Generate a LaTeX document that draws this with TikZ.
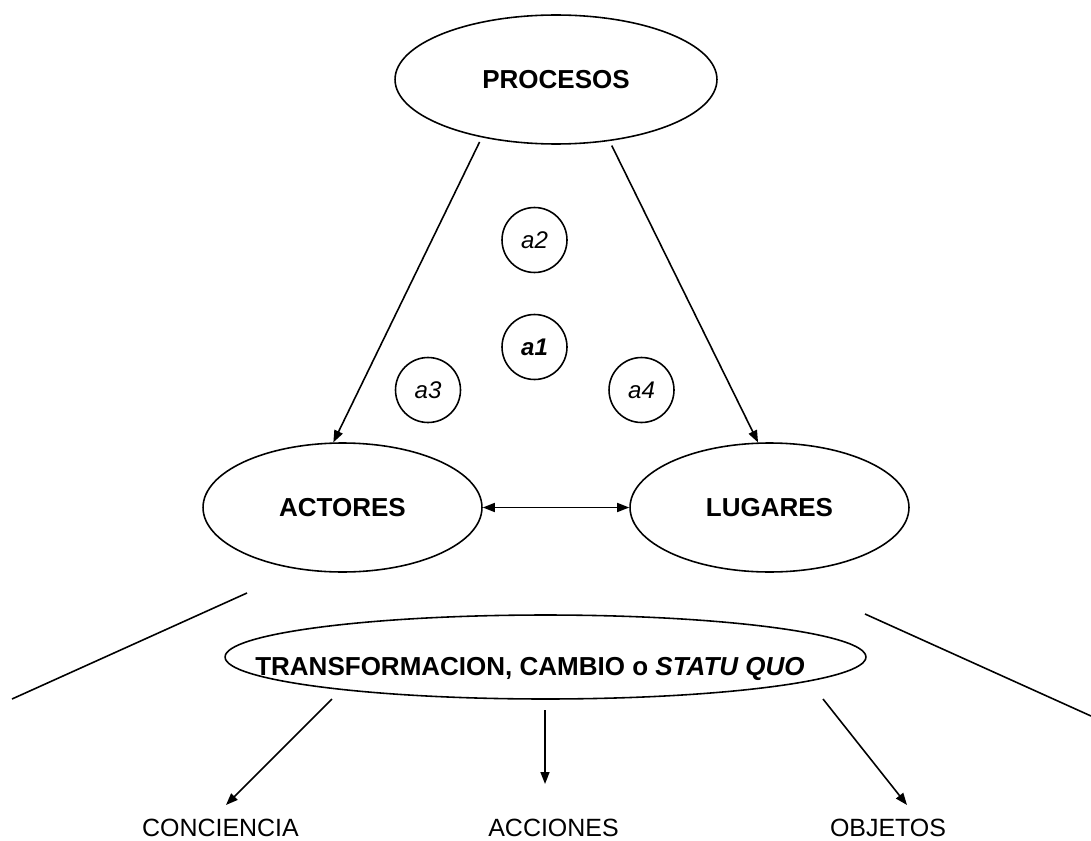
\documentclass[tikz,border=0pt]{standalone}
\usepackage{fontspec}
\setmainfont{Liberation Sans}
\usetikzlibrary{shapes.geometric,arrows.meta}

\tikzset{
  oval/.style={draw,ellipse,line width=0.9pt,inner sep=0pt,
    font=\bfseries\fontsize{14.8pt}{17pt}\selectfont},
  actor/.style={draw,circle,line width=0.9pt,minimum size=1.3cm,inner sep=0pt,
    font=\itshape\fontsize{13.7pt}{16pt}\selectfont},
  result/.style={inner sep=0pt,anchor=base,font=\fontsize{14.2pt}{17pt}\selectfont},
  arrow/.style={-{Triangle[length=0.24cm,width=0.18cm]},line width=0.9pt},
  dblarrow/.style={{Triangle[length=0.24cm,width=0.18cm]}-{Triangle[length=0.24cm,width=0.18cm]},line width=0.9pt},
}

\begin{document}
\begin{tikzpicture}[x=0.02cm,y=-0.02cm]
  \useasboundingbox (0,0) rectangle (1091,841);

  % the three ellipses of the triangle
  \node[oval,minimum width=6.44cm,minimum height=2.58cm] (procesos) at (556,79.5) {PROCESOS};
  \node[oval,minimum width=5.58cm,minimum height=2.58cm] (actores) at (342.5,507.5) {ACTORES};
  \node[oval,minimum width=5.58cm,minimum height=2.58cm] (lugares) at (769.5,507.5) {LUGARES};

  % small circles
  \node[actor] (a2) at (534.5,240) {a2};
  \node[actor] (a1) at (534.5,347) {\bfseries a1};
  \node[actor] (a3) at (428,390) {a3};
  \node[actor] (a4) at (641.5,390) {a4};

  \draw[arrow,shorten <=0.1cm] (procesos.218) -- (actores.98);
  \draw[arrow,shorten <=0.1cm] (procesos.311) -- (lugares.100);
  \draw[dblarrow] (actores) -- (lugares);

  % outcome
  \node[oval,minimum width=12.82cm,minimum height=1.68cm] (trans) at (545.5,657) {};
  \node[result,font=\bfseries\fontsize{14.8pt}{17pt}\selectfont] (translabel) at (530,675)
    {TRANSFORMACION, CAMBIO o \textit{STATU QUO}};

  \draw[line width=0.9pt] (12,699) -- (247,593);
  \draw[line width=0.9pt] (865,614) -- (1091,716);

  \node[result] (conciencia) at (220.5,836) {CONCIENCIA};
  \node[result] (acciones) at (553.5,836) {ACCIONES};
  \node[result] (objetos) at (888,836) {OBJETOS};

  \coordinate (t1) at (332,699);
  \coordinate (t2) at (545,710);
  \coordinate (t3) at (823,699);
  \coordinate (e1) at (226,805);
  \coordinate (e2) at (545,784);
  \coordinate (e3) at (907,805);
  \draw[arrow] (t1) -- (e1);
  \draw[arrow] (t2) -- (e2);
  \draw[arrow] (t3) -- (e3);
\end{tikzpicture}
\end{document}
